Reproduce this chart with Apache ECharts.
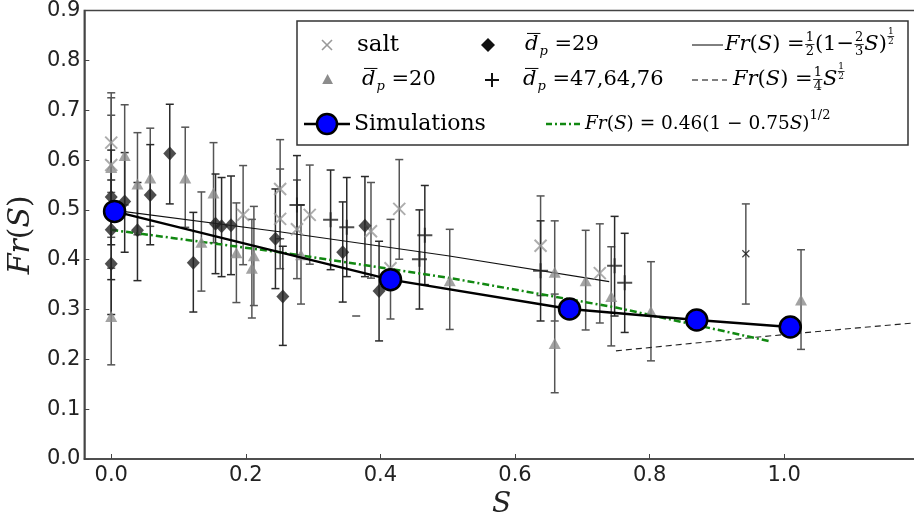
<!DOCTYPE html>
<html><head><meta charset="utf-8">
<script src="https://cdn.jsdelivr.net/npm/echarts@6/dist/echarts.min.js"></script>
<style>html,body{margin:0;padding:0;background:#fff}#c{width:914px;height:519px}</style>
</head><body><div id="c"></div>
<script>
// ---- data: [S, Fr, lower, upper]
const saltPts = [
  [0.0, 0.635, 0.535, 0.735],
  [0.0, 0.59, 0.49, 0.69],
  [0.196, 0.49, 0.39, 0.589],
  [0.251, 0.542, 0.442, 0.641],
  [0.251, 0.482, 0.382, 0.582],
  [0.276, 0.461, 0.362, 0.56],
  [0.295, 0.49, 0.391, 0.59],
  [0.386, 0.457, 0.363, 0.555],
  [0.415, 0.383, 0.281, 0.481],
  [0.428, 0.502, 0.401, 0.601],
  [0.638, 0.428, 0.328, 0.528],
  [0.726, 0.373, 0.273, 0.472]
];
const d20Pts = [
  [0.0, 0.585, 0.445, 0.725],
  [0.0, 0.286, 0.189, 0.383],
  [0.02, 0.609, 0.51, 0.711],
  [0.039, 0.552, 0.45, 0.655],
  [0.058, 0.564, 0.467, 0.664],
  [0.11, 0.564, 0.465, 0.666],
  [0.134, 0.435, 0.337, 0.536],
  [0.152, 0.534, 0.434, 0.635],
  [0.186, 0.414, 0.314, 0.514],
  [0.209, 0.383, 0.283, 0.481],
  [0.212, 0.408, 0.308, 0.507],
  [0.282, 0.41, 0.311, 0.51],
  [0.503, 0.358, 0.26, 0.461],
  [0.659, 0.375, 0.277, 0.478],
  [0.659, 0.232, 0.133, 0.331],
  [0.705, 0.358, 0.259, 0.459],
  [0.743, 0.326, 0.227, 0.426],
  [0.802, 0.296, 0.197, 0.396],
  [1.025, 0.319, 0.22, 0.42]
];
const d29Pts = [
  [0.0, 0.526, 0.43, 0.62],
  [0.0, 0.46, 0.36, 0.56],
  [0.0, 0.392, 0.29, 0.49],
  [0.02, 0.517, 0.415, 0.615],
  [0.039, 0.459, 0.358, 0.555],
  [0.058, 0.53, 0.43, 0.631],
  [0.087, 0.613, 0.512, 0.712],
  [0.122, 0.394, 0.295, 0.495],
  [0.155, 0.472, 0.372, 0.572],
  [0.164, 0.467, 0.366, 0.565],
  [0.178, 0.469, 0.37, 0.568],
  [0.244, 0.442, 0.342, 0.542],
  [0.255, 0.326, 0.228, 0.427],
  [0.344, 0.415, 0.315, 0.516],
  [0.377, 0.468, 0.366, 0.567],
  [0.398, 0.337, 0.237, 0.437]
];
const dBigPts = [
  [0.276, 0.51, 0.41, 0.609],
  [0.326, 0.48, 0.38, 0.58],
  [0.35, 0.465, 0.366, 0.565],
  [0.458, 0.401, 0.301, 0.5],
  [0.466, 0.449, 0.35, 0.549],
  [0.638, 0.378, 0.277, 0.478],
  [0.748, 0.388, 0.287, 0.487],
  [0.763, 0.354, 0.254, 0.453]
];
const minusPts = [[0.364, 0.287]];
const smallXPts = [[0.943, 0.412, 0.311, 0.512]];
const simS  = [0.005, 0.415, 0.681, 0.870, 1.009];
const simFr = [0.497, 0.360, 0.301, 0.279, 0.265];
const theoryAS  = [0.0, 0.25, 0.5, 0.74];
const theoryAFr = [0.5, 0.456, 0.408, 0.356];
const theoryBS  = [0.75, 0.9, 1.05, 1.2];
const theoryBFr = [0.217, 0.237, 0.256, 0.274];
const fitS  = [0.0, 0.25, 0.5, 0.75, 0.98];
const fitFr = [0.46, 0.415, 0.364, 0.304, 0.236];
const xTicks = [0.0, 0.2, 0.4, 0.6, 0.8, 1.0];

const zip = (a, b) => a.map((v, i) => [v, b[i]]);

function errSeries(data, color) {
  return {
    type: 'custom', z: 2, silent: true,
    data: data,
    encode: { x: 0, y: [2, 3] },
    renderItem: function (params, api) {
      const x = api.value(0), lo = api.value(2), hi = api.value(3);
      const p1 = api.coord([x, hi]), p2 = api.coord([x, lo]);
      const w = 4;
      const st = { stroke: color, lineWidth: 1.5 };
      return { type: 'group', children: [
        { type: 'line', shape: { x1: p1[0], y1: p1[1], x2: p2[0], y2: p2[1] }, style: st },
        { type: 'line', shape: { x1: p1[0] - w, y1: p1[1], x2: p1[0] + w, y2: p1[1] }, style: st },
        { type: 'line', shape: { x1: p2[0] - w, y1: p2[1], x2: p2[0] + w, y2: p2[1] }, style: st }
      ]};
    }
  };
}
const XPATH = 'path://M0,0L10,10M10,0L0,10';
const PPATH = 'path://M5,0L5,10M0,5L10,5';

// ---- legend (drawn as graphic text)
const FAM = 'DejaVu Serif';
const mctx = document.createElement('canvas').getContext('2d');
function fstr(size, italic) { return (italic ? 'italic ' : '') + size + 'px "' + FAM + '"'; }
function meas(t, f) { mctx.font = f; return mctx.measureText(t).width; }
const G = [];
function run(x0, y, pieces) {
  let x = x0;
  for (const p of pieces) {
    if (p.frac) {
      const f = fstr(p.size, false);
      const w = Math.max(meas(p.frac[0], f), meas(p.frac[1], f));
      const yc = y + (p.dy || 0), cx = x + w / 2 + 1;
      G.push({ type: 'text', x: cx, y: yc, style: { text: p.frac[0], font: f, fill: '#000', align: 'center', verticalAlign: 'bottom' } });
      G.push({ type: 'text', x: cx, y: yc + 1, style: { text: p.frac[1], font: f, fill: '#000', align: 'center', verticalAlign: 'top' } });
      G.push({ type: 'line', shape: { x1: x + 0.5, y1: yc + 0.5, x2: x + w + 1.5, y2: yc + 0.5 }, style: { stroke: '#000', lineWidth: 0.8 } });
      x += w + 2 + (p.gap || 0);
    } else if (p.dbar) {
      const f = fstr(p.size, true);
      G.push({ type: 'text', x: x, y: y, style: { text: 'd', font: f, fill: '#000', align: 'left', verticalAlign: 'middle' } });
      const w = meas('d', f);
      G.push({ type: 'line', shape: { x1: x + 2, y1: y - p.size * 0.55, x2: x + w + 2, y2: y - p.size * 0.55 }, style: { stroke: '#000', lineWidth: 1 } });
      x += w;
      const fs = fstr(p.size * 0.62, true);
      G.push({ type: 'text', x: x + 1, y: y + p.size * 0.32, style: { text: 'p', font: fs, fill: '#000', align: 'left', verticalAlign: 'middle' } });
      x += meas('p', fs) + 1;
    } else {
      const f = fstr(p.size, p.italic);
      G.push({ type: 'text', x: x, y: y + (p.dy || 0), style: { text: p.t, font: f, fill: '#000', align: 'left', verticalAlign: 'middle' } });
      x += meas(p.t, f) + (p.gap || 0);
    }
  }
  return x;
}
// box
G.push({ type: 'rect', shape: { x: 297, y: 21, width: 611, height: 124 }, style: { fill: '#fff', stroke: '#333', lineWidth: 1.5 }, z: -1 });
const r1 = 45, r2 = 80, r3 = 124;
const M = 21;
// row 1
G.push({ type: 'line', shape: { x1: 322, y1: r1 - 5, x2: 332, y2: r1 + 5 }, style: { stroke: '#999', lineWidth: 1.6 } });
G.push({ type: 'line', shape: { x1: 332, y1: r1 - 5, x2: 322, y2: r1 + 5 }, style: { stroke: '#999', lineWidth: 1.6 } });
run(357, r1, [{ t: 'salt', size: 23 }]);
G.push({ type: 'polygon', shape: { points: [[488, r1 - 7], [495, r1], [488, r1 + 7], [481, r1]] }, style: { fill: '#111' } });
run(525, r1, [{ dbar: true, size: M }, { t: ' =29', size: M }]);
G.push({ type: 'line', shape: { x1: 692, y1: r1, x2: 723, y2: r1 }, style: { stroke: '#000', lineWidth: 1 } });
run(725, r1, [{ t: 'Fr', size: M, italic: true }, { t: '(', size: M }, { t: 'S', size: M, italic: true }, { t: ')', size: M }, { t: ' =', size: M },
  { frac: ['1', '2'], size: 13, dy: -1 }, { t: '(1−', size: M }, { frac: ['2', '3'], size: 13, dy: -1 }, { t: 'S', size: M, italic: true }, { t: ')', size: M },
  { frac: ['1', '2'], size: 9, dy: -9 }]);
// row 2
G.push({ type: 'polygon', shape: { points: [[327.6, r2 - 6], [333, r2 + 4], [322.2, r2 + 4]] }, style: { fill: '#8c8c8c' } });
run(362, r2, [{ dbar: true, size: M }, { t: ' =20', size: M }]);
G.push({ type: 'line', shape: { x1: 485, y1: r2, x2: 499, y2: r2 }, style: { stroke: '#111', lineWidth: 2 } });
G.push({ type: 'line', shape: { x1: 492, y1: r2 - 7, x2: 492, y2: r2 + 7 }, style: { stroke: '#111', lineWidth: 2 } });
run(523, r2, [{ dbar: true, size: M }, { t: ' =47,64,76', size: M }]);
G.push({ type: 'line', shape: { x1: 692, y1: r2, x2: 727, y2: r2 }, style: { stroke: '#000', lineWidth: 1, lineDash: [6, 4] } });
run(733, r2, [{ t: 'Fr', size: M, italic: true }, { t: '(', size: M }, { t: 'S', size: M, italic: true }, { t: ')', size: M }, { t: ' =', size: M },
  { frac: ['1', '4'], size: 13, dy: -1 }, { t: 'S', size: M, italic: true }, { frac: ['1', '2'], size: 9, dy: -9 }]);
// row 3
G.push({ type: 'line', shape: { x1: 304, y1: r3, x2: 350, y2: r3 }, style: { stroke: '#000', lineWidth: 2.5 } });
G.push({ type: 'circle', shape: { cx: 327, cy: r3, r: 10 }, style: { fill: '#0000ff', stroke: '#000', lineWidth: 2.5 } });
run(354, r3, [{ t: 'Simulations', size: 22 }]);
G.push({ type: 'line', shape: { x1: 546, y1: r3, x2: 583, y2: r3 }, style: { stroke: '#118811', lineWidth: 2.5, lineDash: [6, 3, 2, 3] } });
run(585, r3, [{ t: 'Fr', size: 18.5, italic: true }, { t: '(', size: 18.5 }, { t: 'S', size: 18.5, italic: true }, { t: ') = 0.46(1 − 0.75', size: 18.5 }, { t: 'S', size: 18.5, italic: true }, { t: ')', size: 18.5 },
  { t: '1/2', size: 13, dy: -8 }]);
G.forEach(e => { if (e.z === undefined) e.z = 100; else e.z = 99; });

const chart = echarts.init(document.getElementById('c'), null, { renderer: 'canvas' });
chart.setOption({
  animation: false,
  backgroundColor: '#fff',
  grid: { left: 84.3, right: -4.8, top: 10.6, bottom: 60, containLabel: false, outerBoundsMode: 'none',
    show: true, borderColor: '#444', borderWidth: 1.5, backgroundColor: 'transparent' },
  xAxis: {
    type: 'value', min: -0.04, max: 1.2,
    axisLine: { show: true, onZero: false, lineStyle: { color: '#444', width: 1.5 } },
    axisTick: { show: true, inside: true, length: 5, customValues: xTicks, lineStyle: { color: '#444' } },
    axisLabel: { show: true, customValues: xTicks, margin: 6, color: '#222', fontFamily: 'DejaVu Sans', fontSize: 21, formatter: v => v.toFixed(1) },
    splitLine: { show: false },
    name: '{i|S}', nameLocation: 'middle', nameGap: 22,
    nameTextStyle: { rich: { i: { fontFamily: 'DejaVu Serif', fontStyle: 'italic', fontSize: 28, color: '#222' } } }
  },
  yAxis: {
    type: 'value', min: 0, max: 0.9, interval: 0.1,
    axisLine: { show: true, onZero: false, lineStyle: { color: '#444', width: 1.5 } },
    axisTick: { show: true, inside: true, length: 5, lineStyle: { color: '#444' } },
    axisLabel: { margin: 4, color: '#222', fontFamily: 'DejaVu Sans', fontSize: 21, formatter: v => v.toFixed(1) },
    splitLine: { show: false },
    name: '{i|Fr}{r|(}{i|S}{r|)}', nameLocation: 'middle', nameGap: 45, nameRotate: 90,
    nameTextStyle: { rich: {
      i: { fontFamily: 'DejaVu Serif', fontStyle: 'italic', fontSize: 30, color: '#222' },
      r: { fontFamily: 'DejaVu Serif', fontSize: 30, color: '#222' } } }
  },
  graphic: { elements: G },
  series: [
    errSeries(saltPts, '#555'),
    errSeries(d20Pts, '#555'),
    errSeries(d29Pts, '#2a2a2a'),
    errSeries(dBigPts, '#2a2a2a'),
    errSeries(smallXPts, '#555'),
    { type: 'line', z: 3, data: zip(theoryAS, theoryAFr), showSymbol: false, lineStyle: { color: '#111', width: 1.1 } },
    { type: 'line', z: 3, data: zip(theoryBS, theoryBFr), showSymbol: false, lineStyle: { color: '#222', width: 1.1, type: [6, 4] } },
    { type: 'line', z: 3, data: zip(fitS, fitFr), showSymbol: false, lineStyle: { color: '#118811', width: 2.5, type: [7, 3, 2, 3] } },
    { type: 'scatter', z: 4, data: saltPts.map(p => [p[0], p[1]]), symbol: XPATH, symbolSize: 12,
      itemStyle: { color: 'none', borderColor: '#999', borderWidth: 2 } },
    { type: 'scatter', z: 4, data: d20Pts.map(p => [p[0], p[1]]), symbol: 'triangle', symbolSize: [12, 11],
      itemStyle: { color: '#8c8c8c' } },
    { type: 'scatter', z: 4, data: d29Pts.map(p => [p[0], p[1]]), symbol: 'diamond', symbolSize: [13, 14],
      itemStyle: { color: '#222' } },
    { type: 'scatter', z: 4, data: dBigPts.map(p => [p[0], p[1]]), symbol: PPATH, symbolSize: 15,
      itemStyle: { color: 'none', borderColor: '#222', borderWidth: 2 } },
    { type: 'scatter', z: 4, data: minusPts, symbol: 'rect', symbolSize: [8, 1.5], itemStyle: { color: '#222' } },
    { type: 'scatter', z: 4, data: smallXPts.map(p => [p[0], p[1]]), symbol: XPATH, symbolSize: 7,
      itemStyle: { color: 'none', borderColor: '#111', borderWidth: 1.2 } },
    { type: 'line', z: 5, data: zip(simS, simFr), symbol: 'circle', symbolSize: 21, showSymbol: true,
      lineStyle: { color: '#000', width: 2.5 }, itemStyle: { color: '#0000ff', borderColor: '#000', borderWidth: 2.5 } }
  ]
});
</script></body></html>
